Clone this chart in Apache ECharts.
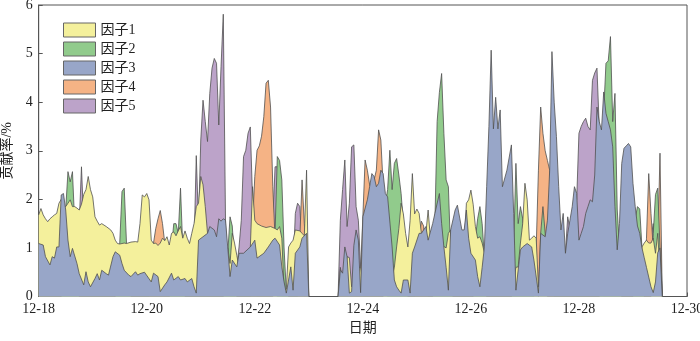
<!DOCTYPE html>
<html>
<head>
<meta charset="utf-8">
<script src="https://cdn.jsdelivr.net/npm/echarts@6/dist/echarts.min.js"></script>
<style>
  html, body { margin: 0; padding: 0; background: #fff; }
  #chart { width: 700px; height: 341px; }
</style>
</head>
<body>
<div id="chart"></div>
<script>
// Hourly factor contribution rates (%), hour offset from 12-18 00:00.
// The hours between 12-23 00:00 and 12-23 13:00 have no data (null).
const tickLabels = ['12-18', '12-20', '12-22', '12-24', '12-26', '12-28', '12-30'];
const factorNames = ['因子1', '因子2', '因子3', '因子4', '因子5'];

const factor1 = [[0,1.68],[1,1.81],[2,1.68],[3,1.6],[4,1.54],[5,1.6],[6,1.64],[7,1.68],[8,1.71],[9,1.92],[10,2.0],[11,1.88],[12,1.85],[13,1.92],[14,1.99],[15,1.85],[16,1.85],[17,1.82],[18,1.78],[19,1.9],[20,2.1],[21,2.2],[22,2.47],[23,2.2],[24,2.05],[25,1.64],[26,1.55],[27,1.47],[28,1.5],[30,1.44],[32,1.37],[33,1.3],[34,1.16],[35,1.09],[36,1.08],[38,1.1],[39,1.09],[41,1.12],[43,1.13],[44,1.12],[45,1.5],[46,2.09],[47,2.05],[48,2.12],[49,1.99],[50,1.16],[51,1.09],[52,1.1],[53,1.05],[54,1.1],[55,1.2],[56,1.15],[57,1.23],[58,1.06],[59,1.3],[60,1.33],[61,1.25],[62,1.35],[63,1.44],[64,1.2],[65,1.35],[66,1.2],[67,1.09],[68,1.3],[69,1.5],[70,1.85],[71,1.92],[72,2.47],[73,2.3],[74,1.85],[75,1.3],[76,1.1],[83,1.0],[84,1.0],[85,0.68],[86,1.3],[87,1.1],[88,0.85],[89,0.6],[94,1.0],[95,2.26],[96,1.57],[97,1.5],[99,1.45],[101,1.42],[103,1.44],[105,1.4],[106,1.37],[107,1.44],[108,1.2],[109,0.13],[110,0.15],[111,1.02],[112,1.1],[113,1.16],[114,1.37],[116,1.35],[117,1.3],[118,1.25],[119,2.6],[120,0],[126,null],[133,0],[134,0.6],[135,0.3],[136,0.5],[137,0.82],[138,0.8],[139,0.2],[142,0.6],[143,0.6],[144,0.3],[155,0.3],[156,0.4],[157,0.41],[158,0.6],[159,1.02],[160,1.4],[161,1.92],[162,1.7],[163,1.3],[164,1.02],[165,1.57],[166,2.53],[167,1.7],[168,1.8],[169,1.71],[170,1.3],[171,1.1],[172,1.3],[173,1.78],[174,1.2],[181,1.0],[182,1.3],[183,1.37],[184,0.8],[189,1.0],[190,1.92],[191,1.99],[192,2.19],[193,1.9],[194,1.44],[195,1.2],[196,1.23],[197,1.1],[198,0.9],[210,0.9],[211,0.3],[212,0.6],[213,0.61],[214,1.1],[215,1.5],[216,2.33],[217,1.99],[218,1.16],[219,1.2],[220,1.25],[221,1.2],[222,0.2],[223,0.5],[267,0.5],[268,1.02],[269,1.1],[270,1.16],[271,1.1],[272,1.1],[273,1.2],[274,0.89],[275,1.3],[276,0.5],[277,0]];

const factor2 = [[0,0],[10,0],[11,1.0],[12,1.8],[13,2.57],[14,2.36],[15,2.57],[16,1.5],[17,0.5],[18,0],[34,0],[35,0.8],[36,1.1],[37,2.16],[38,2.23],[39,1.1],[40,0.5],[41,0],[58,0],[59,1.0],[60,1.5],[61,1.5],[62,1.3],[63,2.23],[64,1.0],[65,0],[82,0],[83,0.5],[84,0.9],[85,1.64],[86,1.45],[87,0.7],[88,0],[104,0],[105,1.3],[106,2.88],[107,2.8],[108,2.4],[109,1.0],[110,0.1],[111,0],[120,0],[126,null],[133,0],[153,0],[154,1.9],[155,2.2],[156,3.01],[157,2.2],[158,2.74],[159,2.84],[160,2.5],[161,2.12],[162,1.5],[163,0.5],[164,0],[175,0],[176,1.5],[177,3.6],[178,4.2],[179,4.59],[180,3.36],[181,2.4],[182,2.26],[183,0.9],[184,0],[193,0],[194,1.2],[195,1.6],[196,1.85],[197,1.5],[198,0.8],[199,0],[210,0],[211,1.0],[212,2.74],[213,1.5],[214,1.85],[215,1.6],[216,0.5],[222,0],[223,1.3],[224,1.85],[225,1.3],[226,0],[249,0],[250,3.0],[251,3.8],[252,4.8],[253,4.85],[254,5.35],[255,3.6],[256,4.18],[257,1.8],[258,1.0],[259,0],[264,0],[265,1.6],[266,1.85],[267,1.8],[268,1.0],[269,0],[272,0],[273,1.3],[274,2.1],[275,2.23],[276,1.0],[277,0]];

const factor3 = [[0,1.09],[2,1.06],[3,0.82],[5,0.65],[6,0.82],[7,0.79],[8,1.02],[9,1.02],[10,2.09],[11,2.12],[12,1.78],[13,1.16],[14,0.82],[15,0.99],[17,0.68],[18,0.47],[20,0.24],[21,0.51],[22,0.3],[23,0.2],[25,0.37],[26,0.47],[27,0.34],[28,0.54],[30,0.47],[31,0.44],[33,0.82],[34,0.92],[36,0.85],[37,0.68],[38,0.54],[40,0.44],[41,0.41],[43,0.51],[44,0.44],[45,0.47],[47,0.5],[50,0.3],[51,0.48],[53,0.41],[54,0.1],[56,0.24],[57,0.3],[59,0.48],[60,0.34],[62,0.41],[63,0.34],[65,0.37],[66,0.3],[68,0.37],[69,0.2],[70,0.07],[71,1.16],[73,1.23],[75,1.3],[76,1.44],[78,1.37],[79,1.23],[80,1.6],[81,1.55],[82,1.6],[83,1.57],[84,1.0],[85,0.41],[86,0.75],[88,0.61],[89,0.89],[91,0.89],[94,1.02],[96,1.16],[97,0.79],[100,0.89],[102,1.02],[104,1.16],[105,1.2],[107,1.06],[108,0.61],[109,0.3],[110,0.07],[111,0.34],[112,0.61],[113,0.13],[114,0.89],[116,1.02],[117,1.2],[119,1.3],[120,0],[126,null],[133,0],[134,0.55],[135,0.48],[136,1.02],[137,0.82],[138,0.07],[139,0.1],[140,1.05],[141,1.37],[142,1.16],[143,0.08],[144,1.64],[146,1.99],[147,2.26],[148,2.53],[149,2.47],[150,2.26],[151,2.33],[152,2.6],[153,2.53],[154,2.12],[155,2.05],[157,1.02],[158,0.34],[159,0.2],[160,0.13],[161,0.07],[162,0.34],[164,0.34],[165,0.07],[166,0.89],[167,1.02],[169,1.3],[170,1.3],[172,1.44],[173,1.16],[175,1.5],[176,1.71],[178,2.12],[179,1.5],[180,1.02],[181,0.6],[182,0.13],[183,1.37],[185,1.78],[186,1.88],[188,1.37],[189,1.37],[190,1.78],[191,1.2],[192,0.89],[194,0.75],[195,0.41],[196,0.2],[197,0.6],[198,1.02],[199,2.26],[200,3.5],[201,5.07],[202,3.45],[203,4.1],[204,3.45],[205,3.84],[206,2.26],[208,2.6],[210,3.12],[211,1.71],[212,0.13],[214,0.96],[215,1.02],[217,1.09],[219,1.02],[220,0.75],[222,0.07],[223,1.3],[225,1.23],[226,1.57],[227,2.6],[228,5.04],[229,4.0],[230,3.29],[231,2.26],[232,1.37],[233,1.71],[234,0.89],[235,1.3],[236,1.57],[237,1.85],[238,2.26],[239,2.12],[240,1.16],[241,1.3],[242,1.44],[243,1.71],[244,1.85],[245,1.99],[246,1.95],[247,2.5],[248,3.9],[249,3.6],[250,3.43],[251,4.21],[252,3.77],[253,3.6],[254,3.43],[255,3.08],[256,1.85],[257,0.96],[258,1.5],[259,2.74],[260,3.05],[261,3.1],[262,3.15],[263,3.08],[264,2.33],[265,1.85],[266,1.45],[267,1.3],[268,1.0],[269,0.8],[270,0.6],[271,0.4],[272,0.2],[273,0.08],[274,0.3],[275,0.9],[276,1.0],[277,0]];

const factor4 = [[0,0],[49,0],[50,0.5],[51,1.1],[52,1.4],[53,1.6],[54,1.77],[55,1.5],[56,1.1],[57,0.5],[58,0],[94,0],[95,1.5],[96,2.47],[97,3.01],[98,3.1],[99,3.3],[100,3.7],[101,4.39],[102,4.45],[103,3.9],[104,2.26],[105,1.2],[106,0],[115,0],[116,1.2],[117,2.4],[118,1.5],[119,0.8],[120,0],[126,null],[133,0],[142,0.3],[143,0.5],[144,1.64],[145,2.81],[146,2.6],[147,2.3],[148,2.2],[150,2.6],[151,3.43],[152,3.22],[153,2.3],[154,1.5],[155,0],[167,0],[168,0.8],[169,1.2],[170,1.55],[171,1.45],[172,0.5],[173,0],[220,0],[221,1.0],[222,2.6],[223,3.9],[224,3.36],[225,3.0],[226,2.8],[227,2.6],[228,1.5],[229,0],[269,0],[270,1.2],[271,2.53],[272,1.71],[273,1.0],[274,0.5],[275,1.0],[276,2.95],[277,0]];

const factor5 = [[0,0],[17,0],[18,1.5],[19,2.67],[20,1.5],[21,0],[68,0],[69,1.0],[70,2.9],[71,1.5],[72,3.22],[73,4.04],[74,3.6],[75,3.19],[76,4.18],[77,4.7],[78,4.9],[79,4.8],[80,3.53],[81,4.73],[82,5.81],[83,1.5],[84,0.5],[85,0],[87,0],[88,0.6],[89,1.02],[90,1.57],[91,2.88],[92,3.01],[93,3.36],[94,3.49],[95,2.0],[96,1.0],[97,0],[103,0],[104,1.5],[105,2.67],[106,2.67],[107,1.5],[108,0],[112,0],[113,0.5],[114,1.71],[115,1.92],[116,1.85],[117,1.0],[118,0],[120,0],[126,null],[133,0],[134,1.57],[135,2.2],[136,2.81],[137,1.44],[138,1.92],[139,3.08],[140,3.12],[141,1.85],[142,1.57],[143,0.61],[144,0],[233,0],[234,0.9],[235,1.64],[236,1.4],[237,1.5],[238,1.8],[239,2.0],[240,3.36],[241,3.5],[242,3.6],[243,3.67],[244,3.5],[245,3.43],[246,4.45],[247,4.6],[248,4.7],[249,3.5],[250,2.0],[251,0],[271,0],[272,1.2],[273,1.5],[274,1.0],[275,0.5],[276,1.5],[277,0]];

const fills = {
  '因子1': '#F4F09C',
  '因子2': '#91CB8C',
  '因子3': '#98A6C8',
  '因子4': '#F5B385',
  '因子5': '#BCA3C9'
};
const seriesData = {
  '因子1': factor1, '因子2': factor2, '因子3': factor3, '因子4': factor4, '因子5': factor5
};
// Back-to-front painting order of the overlapping areas.
const drawOrder = ['因子5', '因子4', '因子2', '因子1', '因子3'];

const fontLatin = "'Liberation Serif', 'Times New Roman', 'Noto Sans CJK SC', serif";
const fontMixed = "'Liberation Serif', 'Noto Sans CJK SC', serif";

const chart = echarts.init(document.getElementById('chart'), null, { renderer: 'canvas' });
chart.setOption({
  animation: false,
  backgroundColor: '#fff',
  grid: {
    left: 38.7, right: 13, top: 5, bottom: 44.5,
    containLabel: false,
    outerBoundsMode: 'none',
    show: true, borderColor: '#555', borderWidth: 1, backgroundColor: 'transparent'
  },
  legend: {
    data: factorNames,
    orient: 'vertical',
    left: 58, top: 17.5,
    icon: 'rect',
    itemWidth: 32, itemHeight: 14, itemGap: 4,
    itemStyle: { borderColor: '#666', borderWidth: 1 },
    textStyle: { fontSize: 14, lineHeight: 14, fontFamily: fontMixed, color: '#222' }
  },
  xAxis: {
    type: 'value', min: 0, max: 288, interval: 48,
    name: '日期', nameLocation: 'middle', nameGap: 25,
    nameTextStyle: { fontSize: 14, fontFamily: fontMixed, color: '#222' },
    axisLine: { lineStyle: { color: '#555' } },
    axisTick: { inside: true, length: 4, lineStyle: { color: '#555' } },
    axisLabel: {
      margin: 6, fontSize: 14, fontFamily: fontLatin, color: '#222',
      formatter: v => tickLabels[Math.round(v / 48)]
    },
    splitLine: { show: false }
  },
  yAxis: {
    type: 'value', min: 0, max: 6, interval: 1,
    name: '贡献率/%', nameLocation: 'middle', nameGap: 20, nameRotate: 90,
    nameTextStyle: { fontSize: 14, fontFamily: fontMixed, color: '#222' },
    axisLine: { show: true, lineStyle: { color: '#555' } },
    axisTick: { show: true, inside: true, length: 4, lineStyle: { color: '#555' } },
    axisLabel: { margin: 6, fontSize: 14, fontFamily: fontLatin, color: '#222' },
    splitLine: { show: false }
  },
  series: drawOrder.map((name, i) => ({
    name: name,
    type: 'line',
    z: 2 + i,
    data: seriesData[name],
    connectNulls: false,
    symbol: 'none',
    showSymbol: false,
    itemStyle: { color: fills[name] },
    lineStyle: { color: '#505050', width: 0.8 },
    areaStyle: { color: fills[name], opacity: 1 },
    emphasis: { disabled: true }
  }))
});
</script>
</body>
</html>
